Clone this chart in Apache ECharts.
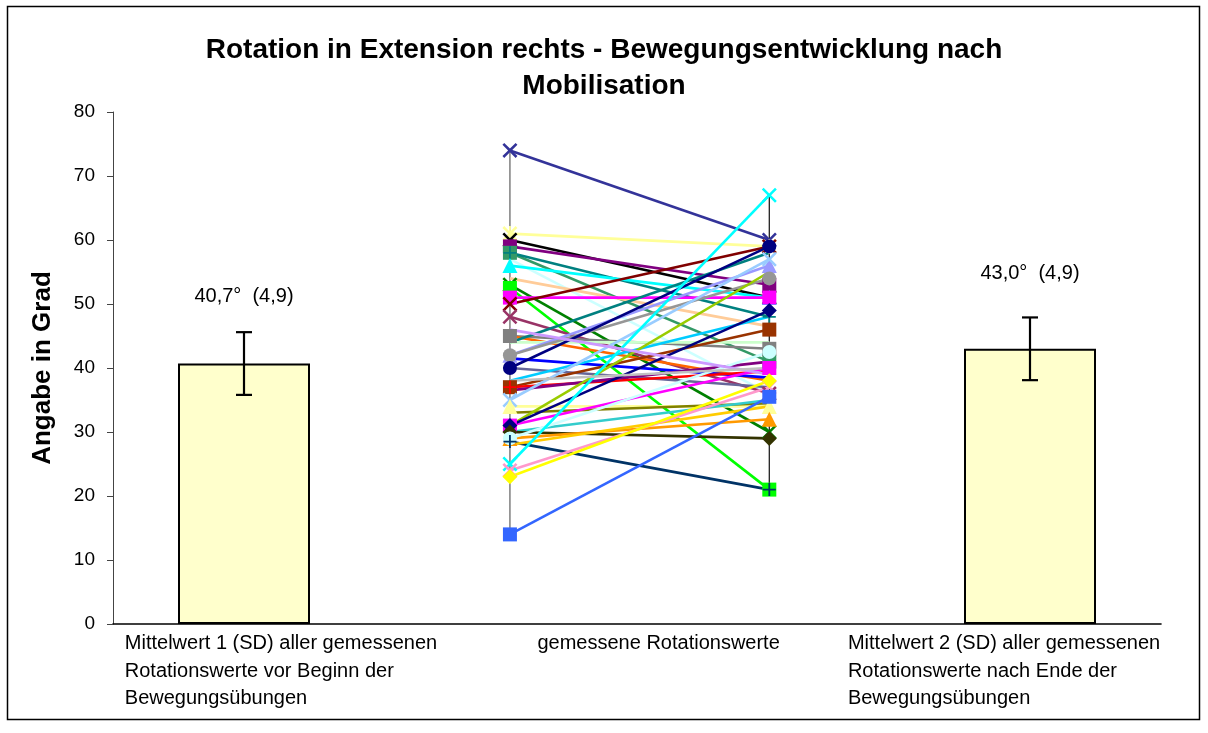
<!DOCTYPE html>
<html>
<head>
<meta charset="utf-8">
<title>Rotation in Extension rechts</title>
<script src="https://cdn.jsdelivr.net/npm/echarts@6/dist/echarts.min.js"></script>
<style>
  html, body { margin: 0; padding: 0; background: #fff; }
  #chart { width: 1208px; height: 733px; }
</style>
</head>
<body>
<div id="chart"></div>
<script>
// Category texts under the x axis and where each text block starts on the x scale
const categoryLabels = [
  'Mittelwert 1 (SD) aller gemessenen\nRotationswerte vor Beginn der\nBewegungsübungen',
  'gemessene Rotationswerte',
  'Mittelwert 2 (SD) aller gemessenen\nRotationswerte nach Ende der\nBewegungsübungen'
];
const labelStarts = [0.09, 3.24, 5.61];

// Mean bars (before / after) with standard deviation
const barPositions = [1, 7];
const meanValues = [40.7, 43.0];
const sdValues = [4.9, 4.9];

// Individual measurements: before and after
const measurePositions = [3.03, 5.01];
const preValues  = [74, 61, 60, 59, 58, 58, 57, 56, 54, 53, 52.5, 51, 50, 48, 45, 45, 44, 44, 42, 42, 41.5, 40, 40, 38, 37, 37, 36.5, 35, 34, 33, 31, 31, 31, 30, 30, 29, 29, 28.5, 28, 25, 24, 23, 14, 46, 38];
const postValues = [60, 59, 51, 53, 41, 48, 36, 51, 46.5, 30, 21, 51, 59, 36, 43, 38, 58, 44, 56, 54, 38.5, 59, 37, 48, 46, 39.5, 41, 57, 34, 34.5, 55, 40, 49, 35, 29, 32, 42.5, 21, 34, 67, 37, 38, 35.5, 39, 40];

// Per-series look
const seriesColors = ['#333399', '#FFFF99', '#000000', '#800080', '#339966', '#008080', '#CCFFFF', '#00FFFF', '#FFCC99', '#008000', '#00FF00', '#FF00FF', '#800000', '#993366', '#808080', '#FF6600', '#008080', '#CCFFCC', '#9999FF', '#969696', '#0000FF', '#000080', '#666699', '#00CCFF', '#993300', '#FF0000', '#800080', '#99CCFF', '#FFFF99', '#808000', '#99CC00', '#FF00FF', '#000080', '#33CCCC', '#333300', '#FF9900', '#CCFFFF', '#003366', '#FFCC00', '#00FFFF', '#FF99CC', '#FFFF00', '#3366FF', '#CC99FF', '#C0C0C0'];
const seriesMarkers = ['x', 'star', 'x', 'rect', 'rect', 'plus', 'none', 'triangle', 'none', 'x', 'rect', 'rect', 'x', 'x', 'rect', 'none', 'none', 'none', 'triangle', 'circle', 'none', 'circle', 'none', 'none', 'rect', 'plus', 'none', 'x', 'triangle', 'none', 'none', 'rect', 'diamond', 'none', 'diamond', 'triangle', 'circle', 'plus', 'none', 'x', 'x', 'diamond', 'rect', 'none', 'none'];

const SYMBOLS = {
  x: 'path://M0,1.2L1.2,0L5,3.8L8.8,0L10,1.2L6.2,5L10,8.8L8.8,10L5,6.2L1.2,10L0,8.8L3.8,5Z',
  star: 'path://M0,1.2L1.2,0L4.4,3.2V0H5.6V3.2L8.8,0L10,1.2L6.2,5L10,8.8L8.8,10L5.6,6.8V10H4.4V6.8L1.2,10L0,8.8L3.8,5Z',
  plus: 'path://M4.3,0H5.7V4.3H10V5.7H5.7V10H4.3V5.7H0V4.3H4.3Z',
  rect: 'rect', circle: 'circle', triangle: 'triangle', diamond: 'diamond', none: 'none'
};
const SYMBOL_SIZE = { x: 15, star: 15, plus: 13, rect: 14, circle: 14, triangle: 15, diamond: 15, none: 0 };

const FONT = '"Liberation Sans", Arial, sans-serif';
const fmt = v => v.toFixed(1).replace('.', ',');

// High-low lines spanning all values at each measurement time
const hiLo = [preValues, postValues].map((vals, i) => ({
  type: 'line',
  silent: true,
  z: 1,
  symbol: 'none',
  lineStyle: { color: i === 0 ? '#6b6b6b' : '#222', width: 1.3 },
  data: [[measurePositions[i], Math.min(...vals)], [measurePositions[i], Math.max(...vals)]]
}));

const measureSeries = preValues.map((pre, i) => {
  const m = seriesMarkers[i];
  return {
    type: 'line',
    z: 3,
    symbol: SYMBOLS[m],
    symbolSize: SYMBOL_SIZE[m],
    showSymbol: m !== 'none',
    lineStyle: { color: seriesColors[i], width: 2.6 },
    itemStyle: { color: seriesColors[i] },
    data: [[measurePositions[0], pre], [measurePositions[1], postValues[i]]]
  };
});

const labelDistances = [57, 65];

const option = {
  animation: false,
  backgroundColor: '#fff',
  title: {
    text: 'Rotation in Extension rechts - Bewegungsentwicklung nach\nMobilisation',
    left: 'center',
    top: 27,
    textStyle: { fontFamily: FONT, fontSize: 28, fontWeight: 'bold', color: '#000', lineHeight: 36, align: 'center' }
  },
  graphic: [{
    type: 'rect',
    shape: { x: 7.5, y: 6.5, width: 1192, height: 713 },
    style: { fill: 'none', stroke: '#000', lineWidth: 1.5 },
    silent: true,
    z: -1
  }],
  grid: { left: 113, right: 47, top: 112, bottom: 109 },
  xAxis: {
    type: 'value',
    min: 0,
    max: 8,
    splitLine: { show: false },
    axisTick: { show: false },
    axisLine: { show: true, lineStyle: { color: '#000', width: 1.6 } },
    axisLabel: {
      customValues: labelStarts,
      align: 'left',
      verticalAlign: 'top',
      margin: 6,
      fontFamily: FONT,
      fontSize: 20,
      lineHeight: 27.5,
      color: '#000',
      formatter: v => {
        const k = labelStarts.findIndex(p => Math.abs(p - v) < 1e-6);
        return k >= 0 ? categoryLabels[k] : '';
      }
    }
  },
  yAxis: {
    type: 'value',
    min: 0,
    max: 80,
    interval: 10,
    name: 'Angabe in Grad',
    nameLocation: 'middle',
    nameRotate: 90,
    nameGap: 57,
    nameTextStyle: { fontFamily: FONT, fontSize: 26, fontWeight: 'bold', color: '#000' },
    splitLine: { show: false },
    axisLine: { show: true, lineStyle: { color: '#444', width: 1 } },
    axisTick: { show: true, length: 6, lineStyle: { color: '#444' } },
    axisLabel: { fontFamily: FONT, fontSize: 19, color: '#000', margin: 18 }
  },
  series: [
    {
      type: 'bar',
      barWidth: 132,
      z: 2,
      itemStyle: { color: '#FFFFCC', borderColor: '#000', borderWidth: 2 },
      label: {
        show: true,
        position: 'top',
        fontFamily: FONT,
        fontSize: 20,
        color: '#000',
        formatter: p => fmt(meanValues[p.dataIndex]) + '°  (' + fmt(sdValues[p.dataIndex]) + ')'
      },
      data: barPositions.map((x, i) => ({ value: [x, meanValues[i]], label: { distance: labelDistances[i] } }))
    },
    {
      type: 'custom',
      z: 4,
      renderItem: (params, api) => {
        const x = api.value(0), m = api.value(1), s = api.value(2);
        const top = api.coord([x, m + s]);
        const bot = api.coord([x, m - s]);
        const hw = 8;
        const st = { stroke: '#000', lineWidth: 2.2 };
        return {
          type: 'group',
          children: [
            { type: 'line', shape: { x1: top[0], y1: top[1], x2: bot[0], y2: bot[1] }, style: st },
            { type: 'line', shape: { x1: top[0] - hw, y1: top[1], x2: top[0] + hw, y2: top[1] }, style: st },
            { type: 'line', shape: { x1: bot[0] - hw, y1: bot[1], x2: bot[0] + hw, y2: bot[1] }, style: st }
          ]
        };
      },
      encode: { x: 0, y: 1 },
      data: barPositions.map((x, i) => [x, meanValues[i], sdValues[i]])
    },
    ...hiLo,
    ...measureSeries
  ]
};

const chart = echarts.init(document.getElementById('chart'), null, { renderer: 'canvas' });
chart.setOption(option);
</script>
</body>
</html>
